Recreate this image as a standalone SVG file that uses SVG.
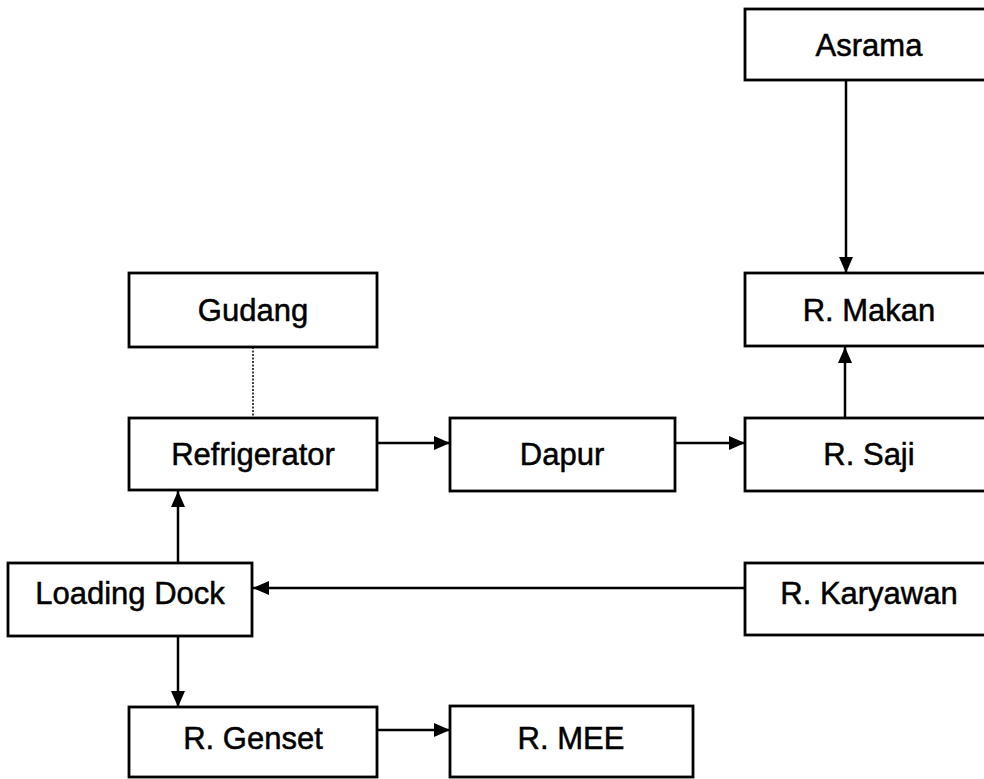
<svg xmlns="http://www.w3.org/2000/svg" width="984" height="779" viewBox="0 0 984 779">
<style>
.box{fill:#fff;stroke:#000;stroke-width:2.8}
.lbl{font-family:"Liberation Sans",Arial,sans-serif;font-size:31px;fill:#000;stroke:#000;stroke-width:0.5;text-anchor:middle}
.ln{stroke:#000;stroke-width:2.5;fill:none}
.dot{stroke:#000;stroke-width:1.5;stroke-dasharray:2 1.5;fill:none}
</style>
<defs>
<marker id="ah" viewBox="0 0 16 14" refX="16" refY="7" markerWidth="16" markerHeight="14" markerUnits="userSpaceOnUse" orient="auto">
<path d="M0,0 L16,7 L0,14 Z" fill="#000"/>
</marker>
</defs>
<rect width="984" height="779" fill="#fff"/>
<g id="connectors">
<line class="ln" x1="846" y1="80" x2="846" y2="273" marker-end="url(#ah)"/>
<line class="ln" x1="845" y1="418" x2="845" y2="347" marker-end="url(#ah)"/>
<line class="ln" x1="377" y1="443" x2="450" y2="443" marker-end="url(#ah)"/>
<line class="ln" x1="675" y1="443" x2="745" y2="443" marker-end="url(#ah)"/>
<line class="ln" x1="745" y1="588" x2="253" y2="588" marker-end="url(#ah)"/>
<line class="ln" x1="178" y1="563" x2="178" y2="491" marker-end="url(#ah)"/>
<line class="ln" x1="178" y1="636" x2="178" y2="707" marker-end="url(#ah)"/>
<line class="ln" x1="377" y1="730" x2="450" y2="730" marker-end="url(#ah)"/>
<line class="dot" x1="253" y1="347" x2="253" y2="418"/>
</g>
<g id="asrama"><rect class="box" x="745" y="9" width="250" height="71"/><text class="lbl" x="869" y="56">Asrama</text></g>
<g id="r-makan"><rect class="box" x="745" y="273" width="250" height="73"/><text class="lbl" x="869" y="321">R. Makan</text></g>
<g id="gudang"><rect class="box" x="129" y="273" width="248" height="74"/><text class="lbl" x="253" y="321">Gudang</text></g>
<g id="refrigerator"><rect class="box" x="129" y="418" width="248" height="72"/><text class="lbl" x="253" y="465">Refrigerator</text></g>
<g id="dapur"><rect class="box" x="450" y="418" width="225" height="73"/><text class="lbl" x="562" y="465">Dapur</text></g>
<g id="r-saji"><rect class="box" x="745" y="418" width="250" height="73"/><text class="lbl" x="869" y="465">R. Saji</text></g>
<g id="loading-dock"><rect class="box" x="8" y="563" width="244" height="73"/><text class="lbl" x="130" y="604">Loading Dock</text></g>
<g id="r-karyawan"><rect class="box" x="745" y="563" width="250" height="72"/><text class="lbl" x="869" y="604">R. Karyawan</text></g>
<g id="r-genset"><rect class="box" x="129" y="707" width="248" height="70"/><text class="lbl" x="253" y="749">R. Genset</text></g>
<g id="r-mee"><rect class="box" x="450" y="706" width="243" height="71"/><text class="lbl" x="571" y="749">R. MEE</text></g>
</svg>
